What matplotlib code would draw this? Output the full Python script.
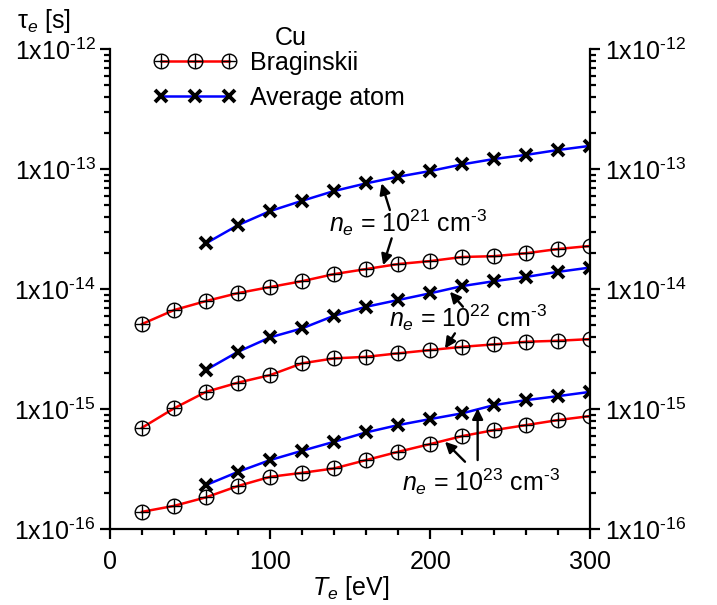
import matplotlib
matplotlib.use("Agg")
import matplotlib.pyplot as plt
import matplotlib.ticker as mticker
import numpy as np

plt.rcParams['font.family'] = ['Liberation Sans', 'DejaVu Sans']
plt.rcParams['mathtext.fontset'] = 'custom'
plt.rcParams['mathtext.rm'] = 'Liberation Sans'
plt.rcParams['mathtext.it'] = 'Liberation Sans:italic'
plt.rcParams['mathtext.default'] = 'regular'

# electron temperature [eV]
T_brag = [20, 40, 60, 80, 100, 120, 140, 160, 180, 200, 220, 240, 260, 280, 300]
T_aa = [60, 80, 100, 120, 140, 160, 180, 200, 220, 240, 260, 280, 300]

# Braginskii tau_e [s]
brag_21 = [5.14e-15, 6.72e-15, 7.99e-15, 9.31e-15, 1.045e-14, 1.17e-14, 1.34e-14, 1.476e-14,
           1.625e-14, 1.72e-14, 1.86e-14, 1.89e-14, 2.0e-14, 2.17e-14, 2.30e-14]
brag_22 = [7.03e-16, 1.02e-15, 1.40e-15, 1.67e-15, 1.93e-15, 2.42e-15, 2.66e-15, 2.74e-15,
           2.93e-15, 3.12e-15, 3.32e-15, 3.48e-15, 3.66e-15, 3.73e-15, 3.85e-15]
brag_23 = [1.40e-16, 1.57e-16, 1.85e-16, 2.30e-16, 2.74e-16, 2.96e-16, 3.22e-16, 3.78e-16,
           4.43e-16, 5.14e-16, 5.99e-16, 6.72e-16, 7.40e-16, 8.15e-16, 8.80e-16]

# average atom tau_e [s]
aa_21 = [2.42e-14, 3.43e-14, 4.49e-14, 5.47e-14, 6.6e-14, 7.64e-14, 8.68e-14, 9.68e-14,
         1.10e-13, 1.22e-13, 1.32e-13, 1.45e-13, 1.57e-13]
aa_22 = [2.13e-15, 3.02e-15, 3.98e-15, 4.73e-15, 6.03e-15, 7.16e-15, 8.15e-15, 9.27e-15,
         1.065e-14, 1.17e-14, 1.27e-14, 1.40e-14, 1.52e-14]
aa_23 = [2.34e-16, 3.02e-16, 3.78e-16, 4.52e-16, 5.37e-16, 6.43e-16, 7.40e-16, 8.30e-16,
         9.27e-16, 1.086e-15, 1.195e-15, 1.29e-15, 1.40e-15]

y_ticks = [1e-16, 1e-15, 1e-14, 1e-13, 1e-12]

fs = 18

fig = plt.figure(figsize=(7.17, 6.05), dpi=100)
ax = fig.add_axes([0.1534, 0.125, 0.670, 0.7935])

for y in [brag_21, brag_22, brag_23]:
    l1, = ax.plot(T_brag, y, color='#ff0000', lw=1.8, marker='o', ms=10.5,
                  mfc='none', mec='k', mew=1.0)
    l2, = ax.plot(T_brag, y, ls='none', marker='+', ms=10.5, mec='k', mew=1.0)
for y in [aa_21, aa_22, aa_23]:
    l3, = ax.plot(T_aa, y, color='#0000ff', lw=1.8, marker='x', ms=8.5,
                  mec='k', mew=2.8)

ax.set_yscale('log')
ax.set_xlim(0, 300)
ax.set_ylim(1e-16, 1e-12)

ax.spines['top'].set_visible(False)
for s in ['left', 'right', 'bottom']:
    ax.spines[s].set_linewidth(1.6)

ax.xaxis.set_major_locator(mticker.MultipleLocator(100))
ax.xaxis.set_minor_locator(mticker.MultipleLocator(20))
ax.yaxis.set_major_locator(mticker.FixedLocator(y_ticks))
minor = [m * t for t in y_ticks[:-1] for m in range(2, 10)]
ax.yaxis.set_minor_locator(mticker.FixedLocator(minor))


def fmt(v, pos):
    e = int(round(np.log10(v)))
    return '1x10$^{\\text{%d}}$' % e


ax.yaxis.set_major_formatter(mticker.FuncFormatter(fmt))
ax.yaxis.set_minor_formatter(mticker.NullFormatter())
ax.tick_params(axis='both', which='both', direction='out', width=1.6, labelsize=fs,
               top=False, right=True, labelright=True)
ax.tick_params(which='major', length=7)
ax.tick_params(which='minor', length=4)
ax.tick_params(axis='x', pad=8)

ax.set_xlabel('$\\it{T}_{\\it{e}}$ [eV]', fontsize=fs, labelpad=0)
fig.text(0.024, 0.965, '$\\tau_{\\it{e}}$ [s]', fontsize=fs, ha='left', va='center')
fig.text(0.405, 0.938, 'Cu', fontsize=fs, ha='center', va='center')

leg = ax.legend([(l1, l2), l3], ['Braginskii', 'Average atom'],
                loc='upper left', bbox_to_anchor=(0.197, 0.937, 0, 0),
                bbox_transform=fig.transFigure, frameon=False, numpoints=3,
                fontsize=fs, handlelength=3.3, handletextpad=0.55,
                labelspacing=0.45, borderpad=0.0)

akw = dict(arrowstyle='-|>', color='k', lw=1.7, mutation_scale=16, shrinkA=0, shrinkB=0)
ax.text(186, 3.56e-14, '$\\it{n}_{\\it{e}}$ = 10$^{21}$ cm$^{\\text{-3}}$', fontsize=fs,
        ha='center', va='center')
ax.annotate('', xy=(169.6, 7.64e-14), xytext=(174.8, 4.58e-14), arrowprops=akw)
ax.annotate('', xy=(170.6, 1.59e-14), xytext=(175.9, 2.66e-14), arrowprops=akw)

ax.text(223.6, 5.77e-15, '$\\it{n}_{\\it{e}}$ = 10$^{22}$ cm$^{\\text{-3}}$', fontsize=fs,
        ha='center', va='center')
ax.annotate('', xy=(212.3, 9.55e-15), xytext=(220.4, 7.16e-15), arrowprops=akw)
ax.annotate('', xy=(209.2, 3.22e-15), xytext=(215.4, 4.3e-15), arrowprops=akw)

ax.text(231.7, 2.48e-16, '$\\it{n}_{\\it{e}}$ = 10$^{23}$ cm$^{\\text{-3}}$', fontsize=fs,
        ha='center', va='center')
ax.annotate('', xy=(209.2, 5.37e-16), xytext=(221.7, 3.66e-16), arrowprops=akw)
ax.annotate('', xy=(229.6, 1.02e-15), xytext=(229.6, 3.78e-16), arrowprops=akw)

fig.savefig('out.png', dpi=100)
